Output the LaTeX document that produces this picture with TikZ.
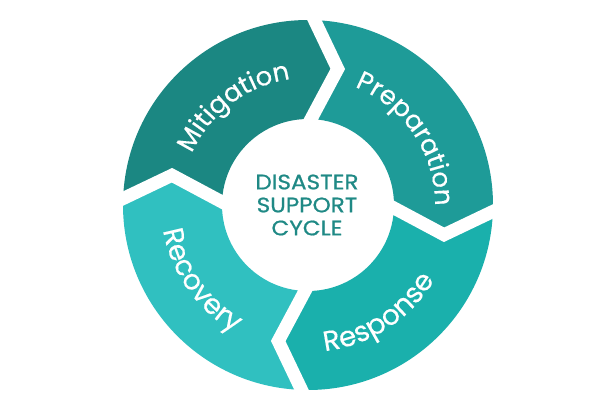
\documentclass[tikz,border=0pt]{standalone}
\usepackage{fontspec}
\setmainfont{Poppins}
\newfontfamily\titlefont[FakeBold=0.8,FakeStretch=1.1]{Poppins}
\newfontfamily\segfont[FakeBold=0.3]{Poppins}
\usetikzlibrary{calc,decorations.text}

\definecolor{mitigation}{HTML}{1B8782}
\definecolor{preparation}{HTML}{1E9B98}
\definecolor{response}{HTML}{1AB0AC}
\definecolor{recovery}{HTML}{30C0C0}
\definecolor{centertext}{HTML}{1F8985}

\begin{document}
\begin{tikzpicture}[x=1pt,y=1pt,
    gapline/.style={white, line width=13pt, line join=miter},
    ringlabel/.style 2 args={decorate, decoration={text along path, text align=center,
        text={|\color{white}\segfont\fontsize{#2}{30}\selectfont|#1}}}]
        % Canvas
        \useasboundingbox (-308,-204) rectangle (307,205);

        % Ring segments (outer radius 185, inner radius 86)
        \foreach \a/\col in {178/mitigation, 88/preparation, -2/response, -92/recovery} {
            \pgfmathsetmacro{\b}{\a-90}
            \fill[\col] (\a:185) arc[start angle=\a, end angle=\b, radius=185]
                -- ($(\b:137)+(\b-90:25)$) -- (\b:86)
                arc[start angle=\b, end angle=\a, radius=86]
                -- ($(\a:137)+(\a-90:25)$) -- cycle;
        }

        % White chevron gaps between the segments
        \foreach \a in {178,88,-2,-92} {
            \coordinate (tip) at ($(\a:137)+(\a-90:25)$);
            \draw[gapline] ($(tip)!1.4!(\a:185)$) -- (tip) -- ($(tip)!1.4!(\a:86)$);
        }

        % Segment labels
        \path[ringlabel={Mitigation}{26}] (172:127) arc[start angle=172, end angle=82, radius=127];
        \path[ringlabel={Preparation}{26}] (79:127) arc[start angle=79, end angle=-11, radius=127];
        \path[ringlabel={Response}{28}] (-102:147) arc[start angle=-102, end angle=-12, radius=147];
        \path[ringlabel={Recovery}{28}] (170:147) arc[start angle=170, end angle=260, radius=147];

        % Centre title
        \node[text=centertext, align=center, font=\titlefont\fontsize{21}{23}\selectfont] (title) at (-1,0)
            {DISASTER\\SUPPORT\\CYCLE};
\end{tikzpicture}
\end{document}
